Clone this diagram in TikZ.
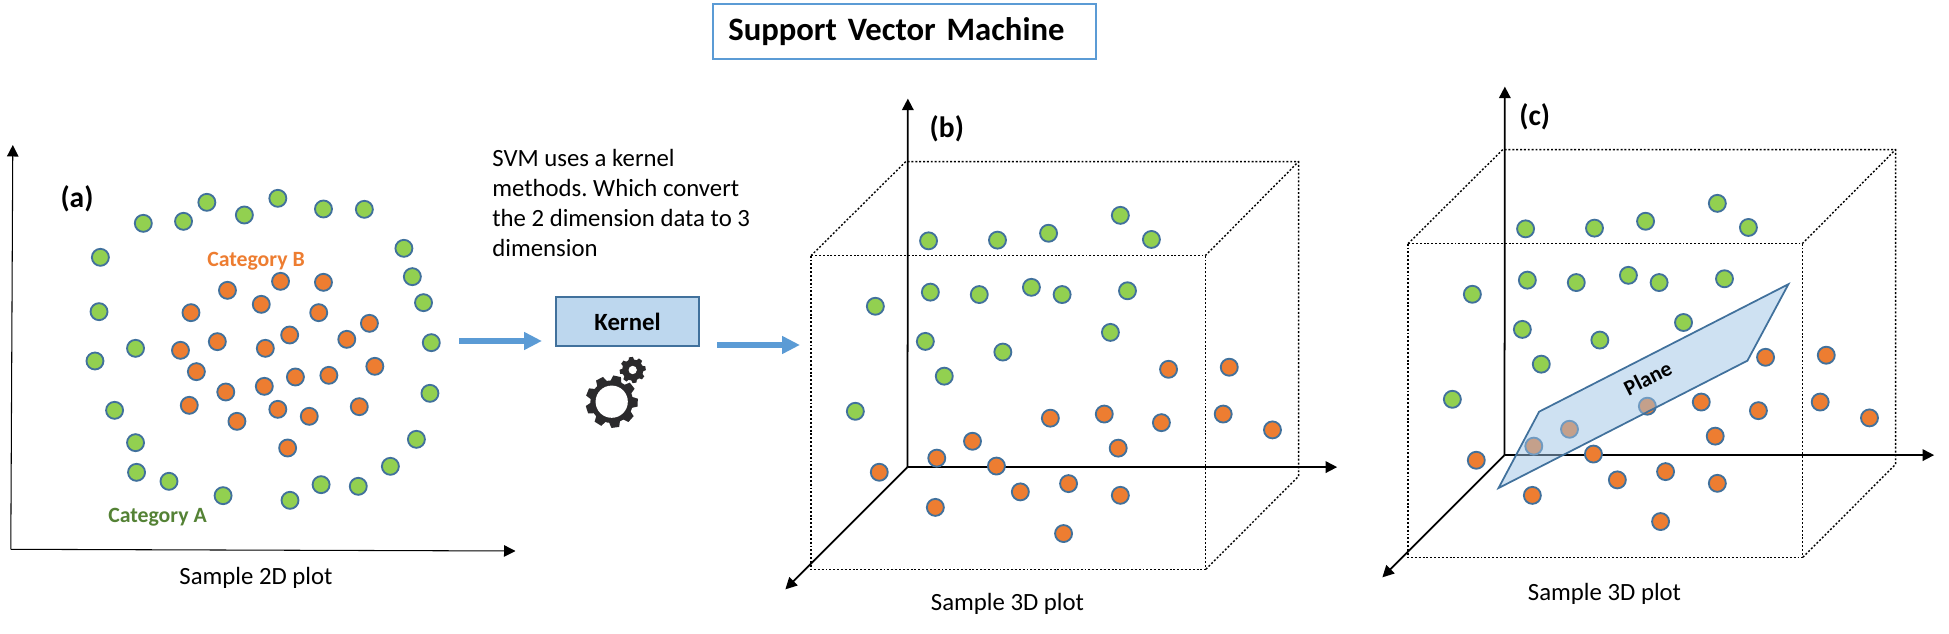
\documentclass[tikz,border=0pt]{standalone}
\usepackage{fontspec}
\setmainfont{Carlito}
\usepackage{tikz}
\usetikzlibrary{arrows.meta,positioning,calc}

\definecolor{dotgreen}{HTML}{92D050}
\definecolor{dotorange}{HTML}{ED7D31}
\definecolor{outlineblue}{HTML}{41719C}
\definecolor{officeblue}{HTML}{5B9BD5}
\definecolor{kernelblue}{HTML}{BDD7EE}
\definecolor{planeblue}{HTML}{9DC3E6}
\definecolor{catgreen}{HTML}{548235}
\definecolor{geargray}{HTML}{2B2A2C}

\newcommand{\flatgreen}{424/310,543/304,612/247,723/285,822/235,957/267,1078/268,1195/385,1220/470,1253/548,1276/668,1272/820,1232/958,1155/1039,1060/1099,950/1094,858/1141,660/1127,500/1084,404/1057,401/968,339/871,401/685,281/723,293/575,297/412}
\newcommand{\flatorange}{673/511,830/484,957/487,773/553,943/578,565/578,1093/610,1026/658,857/645,643/665,785/685,534/691,581/755,1109/739,973/766,874/771,782/799,668/816,560/856,822/868,915/889,1063/860,701/904,851/984}
\newcommand{\cubegreen}{416/438,609/436,752/416,953/364,1040/434,267/628,421/587,558/594,704/573,790/594,973/583,407/730,624/761,460/831,211/933}
\newcommand{\cubeorange}{1088/811,1258/805,757/953,908/941,1068/966,1241/941,1379/987,947/1040,539/1020,439/1069,606/1092,278/1110,808/1143,673/1167,953/1177,435/1212,794/1288}

\begin{document}
\begin{tikzpicture}[
    x=0.02cm, y=-0.02cm,
    greendot/.style={circle, draw=outlineblue, fill=dotgreen, line width=1.05pt, minimum size=0.34cm, inner sep=0pt},
    orangedot/.style={circle, draw=outlineblue, fill=dotorange, line width=1.05pt, minimum size=0.34cm, inner sep=0pt},
    plainlabel/.style={font=\fontsize{14.1}{17}\selectfont, inner sep=0pt},
    boldlabel/.style={font=\fontsize{14.1}{17}\selectfont\bfseries, inner sep=0pt},
    catlabel/.style={font=\fontsize{12.4}{15}\selectfont\bfseries, inner sep=0pt},
    panellabel/.style={font=\fontsize{16.8}{20}\selectfont\bfseries, inner sep=0pt},
    axis/.style={-{Triangle[length=0.23cm, width=0.23cm]}, line width=1pt},
    thinaxis/.style={-{Triangle[length=0.23cm, width=0.23cm]}, line width=0.6pt},
    cubeline/.style={line width=0.8pt, dash pattern=on 1.1pt off 1.1pt},
    flowarrow/.style={-{Triangle[length=0.36cm, width=0.34cm]}, line width=3pt, officeblue},
    pics/gear/.style 2 args={code={
        \fill[geargray] (0,0) circle (0.82);
        \foreach \t in {1,...,#2}
            \fill[geargray, rotate=\t*360/#2+8] (-0.22,0.75) -- (-0.15,1) -- (0.15,1) -- (0.22,0.75) -- cycle;
        \fill[white] (0,0) circle (#1);
    }}
]
\useasboundingbox (0,0) rectangle (1949,634);

% Title
\node[draw=officeblue, line width=1pt, minimum height=1.1cm, text width=7.05cm, align=left, inner xsep=0.306cm, inner ysep=0pt,
      font=\fontsize{18.6}{22}\selectfont\bfseries] (title) at (904.5,31.5) {Support Vector Machine};

% Panel (a)
\coordinate (aorigin) at (10.8,549.3);
\coordinate (atop) at (12.8,145);
\coordinate (aright) at (515.5,551);
\draw[thinaxis] (aorigin) -- (atop);
\draw[thinaxis] (aorigin) -- (aright);
\begin{scope}[shift={(0,120)}, xscale=1/2.9585, yscale=1/3]
    \foreach \x/\y [count=\i] in \flatgreen
        \node[greendot] (ag\i) at (\x,\y) {};
    \foreach \x/\y [count=\i] in \flatorange
        \node[orangedot] (ao\i) at (\x,\y) {};
\end{scope}
\node[panellabel] (alabel) at (77,199) {(a)};
\node[catlabel, text=dotorange] (catb) at (256,261.5) {Category B};
\node[catlabel, text=catgreen] (cata) at (157.5,517) {Category A};
\node[plainlabel] (acaption) at (256,578) {Sample 2D plot};

% Kernel step
\node[plainlabel, align=left, anchor=north west] (note) at (492,149) {SVM uses a kernel\\methods.\ Which convert\\the 2 dimension data to 3\\dimension};
\node[draw=outlineblue, fill=kernelblue, line width=1pt, boldlabel, minimum width=2.87cm, minimum height=0.99cm] (kernel) at (627.5,321.5) {Kernel};
\pic at (611.7,401.7) [scale=26] {gear={0.62}{9}};
\pic at (632.7,370) [scale=13] {gear={0.32}{8}};
\coordinate (inleft) at (459,341);
\coordinate (inright) at (542,341);
\coordinate (outleft) at (717,345);
\coordinate (outright) at (800,345);
\draw[flowarrow] (inleft) -- (inright);
\draw[flowarrow] (outleft) -- (outright);

% Panels (b) and (c), same cube
\foreach \name/\sx/\sy in {b/780/90, c/1377/78} {
\begin{scope}[shift={(\sx,\sy)}, xscale=1/2.8, yscale=1/2.9037]
    \draw[cubeline] (87,481) rectangle (1191,1393);
    \draw[cubeline] (87,481) -- (352,208) -- (1452,208) -- (1452,1122) -- (1191,1393);
    \draw[cubeline] (1191,481) -- (1452,208);
    \coordinate (\name origin) at (357,1095);
    \coordinate (\name top) at (358,25);
    \coordinate (\name right) at (1560,1095);
    \coordinate (\name front) at (15,1450);
    \draw[axis] (\name origin) -- (\name top);
    \draw[axis] (\name origin) -- (\name right);
    \draw[axis] (\name origin) -- (\name front);
    \foreach \x/\y [count=\i] in \cubegreen
        \node[greendot] (\name g\i) at (\x,\y) {};
    \foreach \x/\y [count=\i] in \cubeorange
        \node[orangedot] (\name o\i) at (\x,\y) {};
\end{scope}
}
% this green dot sits elsewhere in (c)
\node[greendot] (bgmoved) at (1110.4,332.4) {};
\node[greendot] (cgmoved) at (1683.5,322.5) {};
\node[panellabel] (blabel) at (946.8,128.9) {(b)};
\node[plainlabel] (bcaption) at (1007.5,604) {Sample 3D plot};
\node[panellabel] (clabel) at (1534.7,116.5) {(c)};
\node[plainlabel] (ccaption) at (1604.5,594) {Sample 3D plot};

% Separating plane
\draw[draw=outlineblue, line width=1pt, fill=planeblue, fill opacity=0.5]
    (1539.1,411.7) -- (1788.4,284.2) -- (1747.4,360.7) -- (1498.5,488.1) -- cycle;
\node[catlabel, rotate=27] (plane) at (1647.7,378) {Plane};
\end{tikzpicture}
\end{document}
